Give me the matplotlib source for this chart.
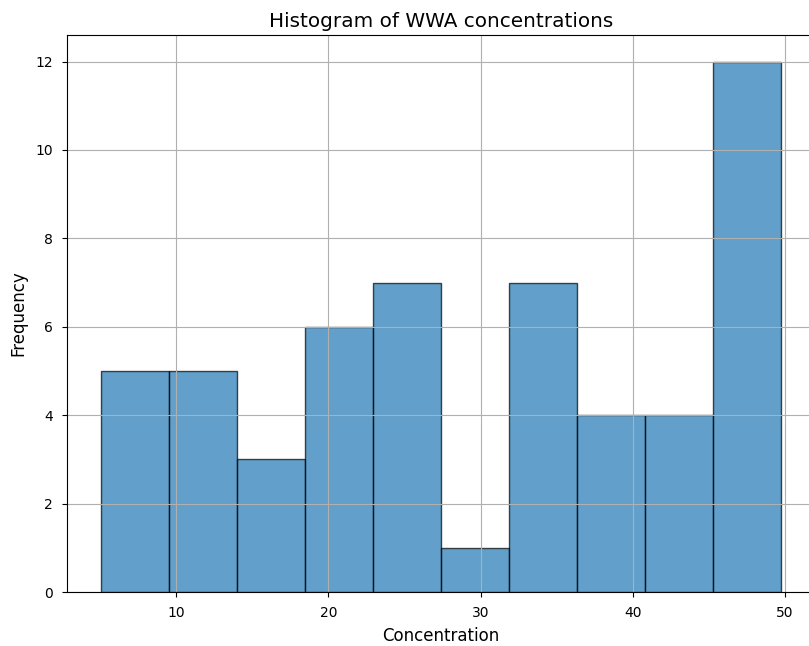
import numpy as np
import matplotlib
matplotlib.use("Agg")
import matplotlib.pyplot as plt

# bin edges and counts
bin_edges = [5.07, 9.54, 14.01, 18.47, 22.94, 27.41, 31.87, 36.34, 40.80, 45.27, 49.74]
counts = [5, 5, 3, 6, 7, 1, 7, 4, 4, 12]

edges = np.array(bin_edges)
centers = (edges[:-1] + edges[1:]) / 2

fig = plt.figure(figsize=(8.09, 6.46), dpi=100)
ax = fig.add_axes([67 / 809, 1 - 592 / 646, 748 / 809, (592 - 35) / 646])

ax.hist(centers, bins=edges, weights=counts, edgecolor="black", alpha=0.7)
ax.set_title("Histogram of WWA concentrations", fontsize=14.4)
ax.set_xlabel("Concentration", fontsize=12, labelpad=5)
ax.set_ylabel("Frequency", fontsize=12, labelpad=5.5)
ax.tick_params(pad=6.5)
ax.grid(True)

fig.savefig("out.png", dpi=100)
